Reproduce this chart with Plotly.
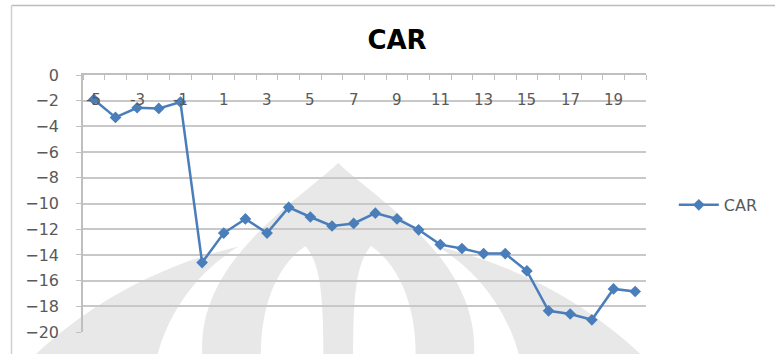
import plotly.graph_objects as go

# Event-window days and cumulative abnormal return (%)
days = [-5, -4, -3, -2, -1, 0, 1, 2, 3, 4, 5, 6, 7, 8, 9, 10,
        11, 12, 13, 14, 15, 16, 17, 18, 19, 20]
car = [-1.9, -3.3, -2.55, -2.6, -2.1, -14.6, -12.3, -11.2, -12.3, -10.3,
       -11.05, -11.75, -11.55, -10.75, -11.2, -12.05, -13.2, -13.5, -13.9,
       -13.9, -15.25, -18.35, -18.6, -19.05, -16.65, -16.85]

x_tick_days = [-5, -3, -1, 1, 3, 5, 7, 9, 11, 13, 15, 17, 19]
x_tick_text = [str(d) for d in x_tick_days]
y_ticks = [0, -2, -4, -6, -8, -10, -12, -14, -16, -18, -20]

W, H = 775, 354
L, R, T, B = 83, 650, 75, 338  # plot area in pixels


def px(x):
    return (x - L) / (R - L)


def py(y):
    return (B - y) / (B - T)


def path(points_cmds):
    out = []
    for cmd, pts in points_cmds:
        coords = " ".join(f"{px(x):.5f},{py(y):.5f}" for x, y in pts)
        out.append(f"{cmd} {coords}")
    return " ".join(out) + " Z"


GRAY = "#e8e8e8"
shapes = []

# faint logo watermark behind the grid
shapes.append(dict(type="circle", xref="paper", yref="paper", layer="below",
                   x0=px(340 - 442), x1=px(340 + 442), y0=py(239), y1=py(239 + 884),
                   fillcolor=GRAY, line=dict(width=0)))
shapes.append(dict(type="circle", xref="paper", yref="paper", layer="below",
                   x0=px(340 - 188.5), x1=px(340 + 188.5), y0=py(221.5), y1=py(221.5 + 377),
                   fillcolor="white", line=dict(width=0)))
dome = path([("M", [(203, 362)]),
             ("L", [(203, 354)]),
             ("C", [(203, 262), (298, 205), (340, 165)]),
             ("C", [(382, 205), (477, 262), (477, 354)]),
             ("L", [(477, 362)])])
shapes.append(dict(type="path", xref="paper", yref="paper", layer="below",
                   path=dome, fillcolor=GRAY, line=dict(width=0)))
left_arch = path([("M", [(262, 362)]),
                  ("C", [(262, 300), (285, 265), (307, 250)]),
                  ("C", [(322, 268), (325, 300), (325, 362)])])
right_arch = path([("M", [(418, 362)]),
                   ("C", [(418, 300), (395, 265), (373, 250)]),
                   ("C", [(358, 268), (355, 300), (355, 362)])])
for p in (left_arch, right_arch):
    shapes.append(dict(type="path", xref="paper", yref="paper", layer="below",
                       path=p, fillcolor="white", line=dict(width=0)))

# chart frame edges
shapes.append(dict(type="line", xref="paper", yref="paper",
                   x0=px(11), x1=px(790), y0=py(4), y1=py(4),
                   line=dict(color="#bdbdbd", width=1.5)))
shapes.append(dict(type="line", xref="paper", yref="paper",
                   x0=px(11), x1=px(11), y0=py(4), y1=py(370),
                   line=dict(color="#cfcfcf", width=1.5)))

LINE_BLUE = "#4a7ebb"
TEXT = "#595959"
FONT = "DejaVu Sans"

# category labels sit just under the axis line that crosses at y = 0
annotations = [
    dict(x=d, xref="x", y=py(101), yref="paper", text=t, showarrow=False,
         xanchor="center", yanchor="middle",
         font=dict(family=FONT, size=15, color=TEXT))
    for d, t in zip(x_tick_days, x_tick_text)
]

fig = go.Figure()
fig.add_trace(go.Scatter(
    x=days, y=car, name="CAR", mode="lines+markers",
    line=dict(color=LINE_BLUE, width=2.5),
    marker=dict(symbol="diamond", size=9, color=LINE_BLUE),
))

fig.update_layout(
    width=W, height=H,
    margin=dict(l=L, r=W - R, t=T, b=H - B),
    paper_bgcolor="white", plot_bgcolor="rgba(0,0,0,0)",
    title=dict(text="<b>CAR</b>", font=dict(family=FONT, size=26, color="black"),
               x=397 / W, xref="container", xanchor="center",
               y=1 - 40 / H, yref="container", yanchor="middle"),
    shapes=shapes,
    annotations=annotations,
    showlegend=True,
    legend=dict(x=px(678), y=py(208), xanchor="left", yanchor="middle",
                itemwidth=40,
                font=dict(family=FONT, size=16, color=TEXT),
                bgcolor="rgba(0,0,0,0)"),
    # category axis crossing at the top (y = 0), with boundary tick marks
    xaxis=dict(range=[-5.5, 20.5], side="top", showgrid=False, zeroline=False,
               showline=True, linecolor="#bfbfbf", linewidth=1.5,
               showticklabels=False, ticks="",
               minor=dict(tick0=-5.5, dtick=1, ticks="inside", ticklen=5,
                          tickcolor="#bfbfbf", showgrid=False)),
    yaxis=dict(range=[-20, 0], tickvals=y_ticks, showgrid=True,
               gridcolor="#c8c8c8", gridwidth=1.5, zeroline=False,
               showline=True, linecolor="#bfbfbf", linewidth=1.5,
               ticks="outside", ticklen=5, tickcolor="#bfbfbf",
               ticklabelstandoff=14,
               tickfont=dict(family=FONT, size=16, color=TEXT)),
)

fig.write_html("out.html")
